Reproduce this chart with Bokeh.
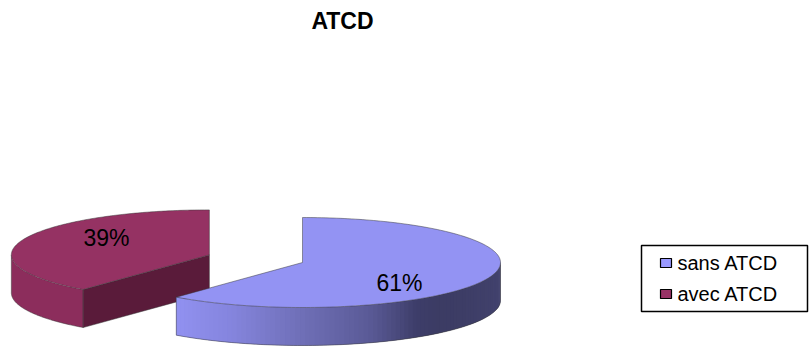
import numpy as np
from bokeh.plotting import figure
from bokeh.models import Range1d
from bokeh.core.properties import value
from bokeh.embed import file_html
from bokeh.resources import INLINE

# chart data
title_text = "ATCD"
categories = ["sans ATCD", "avec ATCD"]
shares = [61, 39]
pct_labels = ["61%", "39%"]

# styling
top_colors = ["#9393F3", "#953263"]
cut_colors = ["#5C5CA0", "#5A1B3A"]
legend_colors = ["#9999FF", "#993366"]
explode = [0.0, 0.5]
label_pos = [(399, 282), (106, 237)]

# shading of the blue rim, by angle (clockwise from 12 o'clock)
rim_theta = [np.pi / 2, 2.37, 2.53, 2.79, 3.15, 3.51, 3.84]
rim_rgb = [(68, 68, 112), (60, 60, 100), (62, 62, 106), (90, 90, 150),
           (112, 112, 184), (133, 133, 222), (146, 146, 242)]
red_rim = "#8C2D5C"

W, H = 810, 347
CX, CY = 302, 262
A, B, DEPTH = 198, 45, 38
FONT = "Liberation Sans"

p = figure(width=W, height=H, output_backend="svg", toolbar_location=None,
           x_range=Range1d(0, W), y_range=Range1d(H, 0), min_border=0)
p.axis.visible = False
p.grid.visible = False
p.outline_line_color = None
p.background_fill_color = "white"
p.border_fill_color = "white"


def pt(cx, cy, th, dz=0.0):
    return cx + A * np.sin(th), cy - B * np.cos(th) + dz


def rim_color(th):
    th = float(th)
    r = np.interp(th, rim_theta, [c[0] for c in rim_rgb])
    g = np.interp(th, rim_theta, [c[1] for c in rim_rgb])
    b = np.interp(th, rim_theta, [c[2] for c in rim_rgb])
    return "#%02x%02x%02x" % (int(r), int(g), int(b))


total = float(sum(shares))
slices = []
cum = 0.0
for i, s in enumerate(shares):
    t0 = 2 * np.pi * cum / total
    t1 = 2 * np.pi * (cum + s) / total
    cum += s
    mid = (t0 + t1) / 2
    cx = CX + explode[i] * A * np.sin(mid)
    cy = CY - explode[i] * B * np.cos(mid)
    slices.append((i, t0, t1, cx, cy))

edge = dict(line_color="#3a3a3a", line_width=0.7, line_alpha=0.7)

# back slices first
for i, t0, t1, cx, cy in sorted(slices, key=lambda s: s[4]):
    # curved rim, visible on the front half
    ta, tb = max(t0, np.pi / 2), min(t1, 3 * np.pi / 2)
    if tb > ta:
        if i == 0:
            # shaded rim as overlapping thin bands
            n = 90
            th = np.linspace(ta, tb, n + 1)
            xs, ys, cols = [], [], []
            for k in range(n):
                ka = th[k]
                kb = th[min(k + 2, n)]
                x0, y0 = pt(cx, cy, ka)
                x1, y1 = pt(cx, cy, kb)
                xs.append([x0, x1, x1, x0])
                ys.append([y0, y1, y1 + DEPTH, y0 + DEPTH])
                cols.append(rim_color((th[k] + th[k + 1]) / 2))
            p.patches(xs, ys, fill_color=cols, line_color=None)
        else:
            th = np.linspace(ta, tb, 120)
            xt, yt = pt(cx, cy, th)
            xb, yb = pt(cx, cy, th[::-1], DEPTH)
            p.patch(np.r_[xt, xb], np.r_[yt, yb], fill_color=red_rim,
                    line_color=None)
        th = np.linspace(ta, tb, 120)
        xb, yb = pt(cx, cy, th, DEPTH)
        p.line(xb, yb, **edge)
        for t in (ta, tb):
            xe, ye = pt(cx, cy, t)
            p.line([xe, xe], [ye, ye + DEPTH], **edge)

    # radial cut faces that turn towards the viewer
    for t, vis in ((t0, np.sin(t0) < -1e-6), (t1, np.sin(t1) > 1e-6)):
        if vis:
            xe, ye = pt(cx, cy, t)
            p.patch([cx, xe, xe, cx], [cy, ye, ye + DEPTH, cy + DEPTH],
                    fill_color=cut_colors[i], **edge)

    # top face
    th = np.linspace(t0, t1, 200)
    xa, ya = pt(cx, cy, th)
    p.patch(np.r_[cx, xa], np.r_[cy, ya], fill_color=top_colors[i], **edge)

# percentage labels
p.text(x=[q[0] for q in label_pos], y=[q[1] for q in label_pos], text=pct_labels,
       text_font=value(FONT), text_font_size="23px", text_color="black",
       text_align="center", text_baseline="middle")

# title
p.text(x=[342], y=[20], text=[title_text], text_font=value(FONT),
       text_font_size="23px", text_font_style="bold", text_color="black",
       text_align="center", text_baseline="middle")

# legend
p.quad(left=[641], right=[807], top=[245], bottom=[311], fill_color="white",
       line_color="black", line_width=1.5)
ly = [262.5, 293.5]
p.quad(left=[660] * 2, right=[671] * 2, top=[y - 4.5 for y in ly],
       bottom=[y + 4.5 for y in ly], fill_color=legend_colors,
       line_color="black", line_width=1.2)
p.text(x=[677] * 2, y=ly, text=categories, text_font=value(FONT),
       text_font_size="20px", text_color="black", text_align="left",
       text_baseline="middle")

open("out.html", "w").write(file_html(p, INLINE))
